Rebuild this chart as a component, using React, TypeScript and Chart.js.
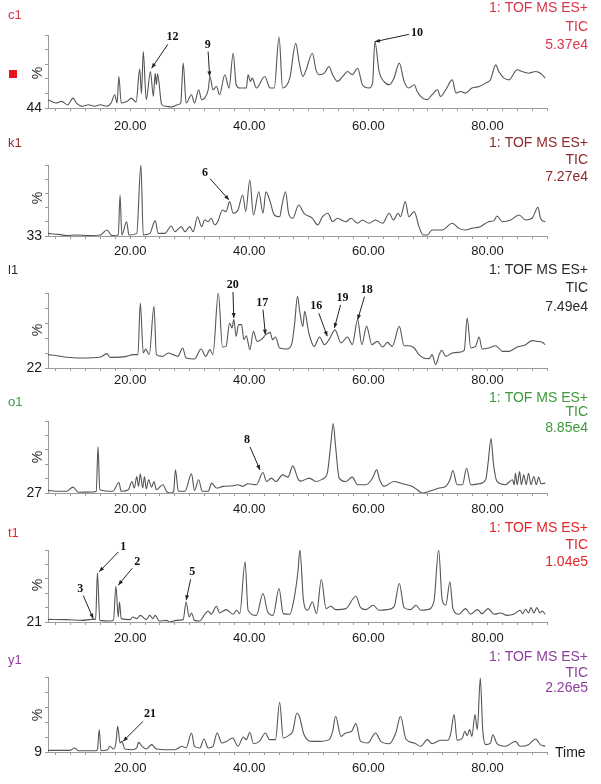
import React, { useEffect, useRef } from 'react';
import { Chart, registerables } from 'chart.js';

Chart.register(...registerables);

// ---------- data ----------
const sampleNames = ['c1', 'k1', 'l1', 'o1', 't1', 'y1'];
const ticIntensities = ['5.37e4', '7.27e4', '7.49e4', '8.85e4', '1.04e5', '2.26e5'];
const baselinePercents = [44, 33, 22, 27, 21, 9];
const xLabelTimes = [20, 40, 60, 80];
const timeMin = 6.2;
const timeMax = 90;

const c1Trace = [[6.2,50.4],[7.5,47.8],[8.5,49.1],[9.5,46.5],[10.4,51.6],[11,47.8],[12,45.3],[13,46.5],[14,45.3],[15,46.5],[16,45.3],[16.8,47.8],[17.4,54.2],[17.8,47.8],[18.1,68.2],[18.5,47.8],[19.5,49.1],[20.2,51.6],[21,48.5],[21.6,73.8],[21.9,55],[22.2,87.3],[22.7,50.4],[23.4,72],[23.9,52.9],[24.2,70.7],[24.4,62],[24.6,70.2],[25.3,46.5],[26,45.3],[27,44.8],[28,46.5],[28.5,48],[28.9,78.4],[29.4,47.8],[30.3,54.2],[30.8,47.8],[31.5,58],[32,50.4],[32.5,51.6],[33.1,58],[33.4,68.2],[33.9,58],[34.5,60.5],[35,54.2],[35.9,69.5],[36.6,59.3],[37.3,86],[37.8,61.8],[38.4,59.3],[39.5,59.3],[39.8,69.5],[40.2,64.4],[40.5,66.9],[41.2,59.3],[42.6,68.2],[43.5,59.3],[44.2,59.3],[45,98.7],[45.6,59.3],[46.8,66.9],[47.8,93.6],[48.4,78.4],[49,68.2],[49.5,72.7],[50.6,86],[51.2,73.3],[51.8,69.5],[52.6,70.7],[53.4,75.8],[54,69.5],[54.8,64.4],[55.7,68.2],[56.5,72],[57.3,69.5],[58.2,74.5],[59,61.8],[60.1,59.3],[60.7,63.1],[61.1,94.9],[61.8,72],[62.6,64.4],[63.5,61.8],[64.3,66.9],[65.2,78.4],[66,64.4],[66.8,59.3],[67.7,61.8],[68.2,56.7],[69.1,51.6],[69.9,50.4],[70.7,54.2],[71.6,58],[72.1,52.9],[73,58],[74.1,65.6],[74.7,55.5],[75.5,56.7],[76.3,55.5],[77.4,59.3],[78.6,60.5],[79.7,63.1],[80.5,65.6],[81.4,77.1],[81.9,72],[82.8,66.9],[83.6,65.6],[85,73.3],[85.8,72],[86.9,70.7],[88.1,72],[88.9,70.7],[89.7,66.9]];

const k1Trace = [[6.2,35.5],[8,34.5],[9.3,33.5],[11,34],[13,33.5],[15,34],[16.1,38.7],[16.9,33.5],[18,34],[18.3,71.7],[18.6,34],[19.4,46.5],[19.8,34],[21.1,35.5],[21.8,100],[22.2,34],[23.3,35.5],[24.2,47.5],[24.7,35.5],[25.8,35.5],[26.9,42.4],[27.5,37.1],[28.6,41.8],[29.2,37.1],[30,41.8],[30.6,37.1],[31.3,51.2],[32,41.8],[32.5,48.1],[33.1,46.5],[33.6,49.7],[34.2,43.4],[34.7,46.5],[35.5,57.5],[36.1,56],[36.7,65.4],[37.3,54.4],[38.1,57.5],[38.9,71.7],[39.4,56],[40.1,85.9],[40.7,52.8],[41.6,74.8],[42.3,54.4],[42.8,74.8],[43.5,65.4],[44.2,52.8],[45.1,51.2],[45.5,62.3],[46.1,74.8],[46.6,54.4],[47.3,49.7],[48.3,62.3],[49.2,54.4],[50.6,49.7],[51.5,43.4],[52.3,51.2],[53.2,54.4],[54,46.5],[54.8,49.7],[56.2,46.5],[57.1,49.7],[58.2,45],[59,48.1],[60.1,45],[61.2,48.1],[62.4,45],[63.5,54.4],[64.2,48.1],[65,54.4],[65.4,51.2],[66.2,65.4],[66.8,51.2],[67.7,56],[68.5,41.8],[69.2,33.9],[69.9,33.9],[70.7,38.7],[72.4,38.7],[74.1,45],[75.2,40.2],[76.3,38.7],[77.4,40.3],[78.8,41.8],[80.2,46.5],[81.1,47.5],[81.6,51.9],[82.5,46.5],[83.9,48.1],[85.3,52.8],[86.4,48.1],[87.5,49.7],[88.5,60.1],[88.9,49.7],[89.7,46.5]];

const l1Trace = [[6.2,35.9],[8,34.5],[9.3,33.1],[12,32.4],[14.9,33.1],[16.1,36.9],[16.6,33.1],[19.4,34.1],[20.5,35.9],[21.3,35.9],[21.7,89.6],[22.2,37.6],[22.6,41.8],[23.2,35.9],[24,86.1],[24.4,35.9],[25.5,34.1],[26.4,37.6],[27.2,35.9],[28,34.1],[28.8,42.8],[29.4,32.4],[30.8,31.4],[31.9,41.8],[32.7,34.1],[33.4,41.1],[33.9,35.9],[34.8,100],[35.5,43.8],[36.1,44.5],[36.7,68.8],[37.1,63.6],[37.4,72.3],[37.8,54.9],[38.2,67.1],[38.7,67.1],[39.1,51.5],[39.5,55.6],[40.1,41.1],[40.7,60.1],[41.3,49.7],[42,51.5],[42.8,56.7],[43.5,59.1],[43.9,51.5],[44.4,54.2],[45.1,42.8],[46.3,41.8],[47.1,46.3],[47.6,67.1],[48.1,96.5],[48.5,80],[49,65.3],[49.3,80.9],[50,58.4],[50.9,44.5],[51.8,54.2],[52.6,46.3],[53.4,51.5],[54.4,61.7],[55.4,48],[56.5,54.2],[57.3,46.3],[58.2,72.3],[58.9,46.3],[59.7,65.3],[60.6,46.3],[61.5,49.7],[62.4,43.8],[63.2,48.7],[64,44.5],[65.2,65.3],[66,45.2],[66.8,45.2],[67.7,42.8],[68.5,35.9],[69.3,32.4],[70.2,31.7],[70.7,35.9],[71.3,25.5],[71.9,35.9],[72.3,40.4],[73,34.1],[74.1,37.6],[75.2,38.3],[76.1,40.4],[76.6,74],[77.2,42.8],[78,44.5],[78.6,54.2],[79.1,41.8],[80.2,42.8],[81.4,45.2],[82.5,39.3],[83.6,39.3],[85,43.8],[86.4,46.3],[87.5,50.5],[88.3,49.7],[89.2,48.7],[89.7,46.3]];

const o1Trace = [[6.2,29.7],[8,28.7],[9.3,28.7],[10.4,33],[11.3,27.7],[13.8,28],[14.3,28.7],[14.6,73.9],[14.9,30.3],[17.1,28.7],[18.1,37.7],[18.5,28.7],[19.7,30.3],[20.3,38.7],[20.7,32],[21.1,43.7],[21.4,33.7],[21.7,46.4],[22.1,32],[22.4,43.7],[22.7,31],[23.1,40.4],[23.6,33],[24,38.7],[24.4,30.3],[25.5,35.4],[26.1,28.7],[26.9,27],[27.3,28.7],[27.6,50.4],[28.1,28.7],[29.2,28.7],[30.3,46.4],[30.8,29.7],[31.5,40.4],[32.1,28.7],[33.1,28.7],[33.7,37],[34.5,32],[35.6,33.7],[37.3,34.4],[38.1,35.4],[38.9,33.7],[39.8,36.4],[41.2,35.4],[42.3,47.8],[42.9,38.7],[43.7,42.1],[44.5,38.7],[45.6,45.4],[46.5,43.1],[47.3,54.5],[48.2,41.1],[48.6,39],[50.1,42.1],[51.2,38.7],[52.3,41.1],[53.1,47.1],[53.7,77.2],[54.1,97.3],[54.5,73.9],[55.1,42.1],[56.2,38.7],[57.3,43.1],[58.2,35.4],[59.6,35.4],[60.7,42.1],[61.4,50.4],[61.9,40.4],[62.6,33.7],[64.3,38.7],[65.7,36.4],[67.4,33.7],[68.2,30.3],[69.1,27],[70.2,28.7],[71.9,32],[73,33.7],[73.7,40.4],[74.2,49.8],[74.9,35.4],[75.8,35.4],[76.5,52.1],[77.2,35.4],[78.6,36.4],[79.7,40.4],[80.1,57.1],[80.6,82.3],[81,57.1],[81.6,38.7],[83,35.4],[84.2,40.4],[84.5,35.4],[84.7,47.1],[85,35.4],[85.4,48.8],[85.7,35.4],[86.1,45.4],[86.5,35.4],[86.9,47.1],[87.3,35.4],[87.8,43.7],[88.2,35.4],[88.6,43.1],[89,36.4],[89.7,37]];

const t1Trace = [[6.2,23.9],[9.3,23.6],[12,22.8],[13.5,23.9],[14.2,23.9],[14.5,75],[14.9,22.8],[16.6,22.1],[17.2,22.8],[17.6,60.3],[18,26.5],[18.2,43],[18.5,24.7],[20,23.6],[20.4,26.5],[21.1,24.7],[21.7,28.3],[22.7,23.6],[23.3,28.3],[23.8,24.5],[24.2,28.3],[24.9,22.1],[26.1,22.8],[26.6,21],[27.7,22.8],[28.9,23.6],[29.4,43],[29.9,26.5],[30.3,30.9],[30.8,22.8],[31.7,22.1],[32.4,28.3],[33.1,33.1],[33.6,29.5],[34.5,38.3],[35,30.9],[36.1,34.6],[37.3,29.5],[37.9,33.9],[38.4,30.2],[39.3,87.1],[39.8,33.9],[41.2,28.3],[42.3,52.2],[43.1,32],[44,28.3],[45,57.7],[45.7,30.2],[46.8,29.5],[47.6,49.3],[48.2,78],[48.5,100],[49.1,44.9],[49.8,33.9],[50.6,43],[51.3,30.2],[52.1,67.7],[52.9,35.7],[53.7,38.3],[54.5,34.6],[56.2,35.7],[57.9,49.3],[58.7,36.8],[59.6,34.6],[60.8,39.4],[61.8,33.9],[63.2,34.6],[64.3,37.5],[65.2,63.3],[66,36.8],[67.1,34.6],[68,39.4],[68.8,33.9],[69.9,34.6],[71,43],[71.8,100],[72.4,44.9],[73,39.4],[73.7,65.1],[74.2,35.7],[75.2,29.5],[76.3,35.7],[77.2,29.5],[78.3,34.6],[79.1,30.2],[80.1,35.7],[81.1,29.5],[82.2,30.9],[83.3,28.3],[84.4,29.5],[85.5,33.9],[85.9,30],[86.4,35],[86.9,31],[87.3,36.8],[87.8,31],[88.3,36.8],[88.8,31],[89.2,33],[89.7,29.5]];

const y1Trace = [[6.2,11],[9.9,11],[10.7,13.9],[11.3,10.6],[14.2,10.6],[14.5,11.8],[14.8,36.1],[15.1,10.6],[16.2,11.8],[16.6,15.9],[17.2,12.6],[17.6,19.9],[17.9,40.1],[18.3,19.9],[18.6,21.9],[19.1,12.6],[20.3,11.8],[21.1,13.9],[21.4,20.7],[22,15.9],[22.7,12.6],[23.6,17.9],[24.4,12.6],[26.1,11.8],[27.5,11.8],[28.7,15.9],[29.4,13.9],[30.3,32.1],[30.8,15.9],[31.7,13.9],[32.4,24.8],[33.1,13.9],[33.9,15.9],[34.6,32.1],[35.4,19.9],[36.2,21.9],[37.2,26],[38.1,15.9],[39,27.2],[39.5,24],[40.1,32.9],[40.7,19.1],[41.7,21.9],[42.7,32.1],[43.4,24],[44.4,24],[45.1,69.3],[45.7,26],[46.8,30],[47.3,34.1],[48,56.3],[48.4,52.3],[49.2,30],[50.4,21.9],[51.8,21.9],[53.4,24],[54,34.1],[54.5,52.3],[55.4,28],[56.2,32.1],[57.2,34.1],[57.9,43.4],[58.7,21.9],[59.9,19.9],[61.2,32.1],[62.1,21.9],[63.5,19.1],[64.6,32.1],[65.4,52.3],[66.3,24.8],[67.7,19.9],[68.8,15.9],[69.9,24],[70.7,19.1],[72.1,23.2],[73.3,23.2],[73.8,30],[74.4,54.3],[74.9,23.2],[75.8,26],[76.2,34.1],[76.6,28.8],[77,36.1],[77.4,28],[77.9,54.3],[78.3,36.1],[78.8,98.8],[79.2,36.1],[79.7,17.9],[80.5,19.9],[80.9,30],[81.6,19.1],[83,15.9],[84.7,21.9],[85.5,15.9],[86.9,17.9],[88.1,24.8],[88.9,17.9],[89.7,15.9]];

const traces = [c1Trace, k1Trace, l1Trace, o1Trace, t1Trace, y1Trace];

// peak annotations: panel index, label, retention time and intensity of arrow tip
const annPanels = [0, 0, 0, 1, 2, 2, 2, 2, 2, 3, 4, 4, 4, 4, 5];
const annLabels = ['12', '9', '10', '6', '20', '17', '16', '19', '18', '8', '1', '2', '3', '5', '21'];
const annTimes = [23.6, 33.35, 61.1, 36.6, 37.4, 42.7, 53.1, 54.3, 58.2, 41.8, 14.8, 18.0, 13.8, 29.4, 18.8];
const annValues = [74.5, 68.2, 94.9, 67, 74, 56.7, 55, 63.6, 72.3, 50.4, 76.1, 61.4, 24.7, 44.9, 21.9];

// ---------- layout (pixels) ----------
const annOffsets = [[21, -31], [-2, -32], [42, -9], [-24, -27], [-1, -33], [-3, -32], [-11, -30], [8, -30], [9, -30], [-13, -30], [24, -25], [19, -23], [-13, -30], [6, -28], [27, -27]];

const CANVAS_W = 601;
const CANVAS_H = 134;
const panelLayout = [
  { top: 0, areaTop: 35, areaBottom: 108, nameY: 15, headerY: [8, 27, 45], pctY: 73, tickPad: 8, color: '#d8364a' },
  { top: 130, areaTop: 35, areaBottom: 106, nameY: 13, headerY: [13, 30, 47], pctY: 68, tickPad: 5, color: '#8c2a2a' },
  { top: 260, areaTop: 33, areaBottom: 108, nameY: 10, headerY: [10, 28, 47], pctY: 70, tickPad: 2, color: '#2a2a2a' },
  { top: 390, areaTop: 31, areaBottom: 103, nameY: 12, headerY: [8, 22, 38], pctY: 67, tickPad: 6, color: '#3c9a3c' },
  { top: 520, areaTop: 30, areaBottom: 102, nameY: 13, headerY: [8, 25, 42], pctY: 65, tickPad: 6, color: '#e3262a' },
  { top: 650, areaTop: 27, areaBottom: 102, nameY: 10, headerY: [7, 23, 38], pctY: 65, tickPad: 6, color: '#8e3d9c' },
];

const SANS = '"Liberation Sans", Arial, sans-serif';
const SERIF = '"Liberation Serif", "Times New Roman", serif';
const AXIS_COLOR = '#9a9a9a';

function makeTextPlugin(i: number) {
  return {
    id: 'panelText' + i,
    afterDraw(chart: any) {
      const ctx = chart.ctx as CanvasRenderingContext2D;
      const L = panelLayout[i];
      ctx.save();
      // sample name
      ctx.textBaseline = 'middle';
      ctx.textAlign = 'left';
      ctx.fillStyle = L.color;
      ctx.font = '13px ' + SANS;
      ctx.fillText(sampleNames[i], 8, L.nameY);
      // header
      ctx.font = '14px ' + SANS;
      ctx.textAlign = 'right';
      const header = ['1: TOF MS ES+', 'TIC', ticIntensities[i]];
      header.forEach((s, k) => ctx.fillText(s, 588, L.headerY[k]));
      // % label
      ctx.save();
      ctx.translate(38, L.pctY);
      ctx.rotate(-Math.PI / 2);
      ctx.textAlign = 'center';
      ctx.fillStyle = '#333';
      ctx.font = '14px ' + SANS;
      ctx.fillText('%', 0, 0);
      ctx.restore();
      if (i === 0) {
        ctx.fillStyle = '#e8141c';
        ctx.fillRect(9, 70, 8, 8);
      }
      if (i === panelLayout.length - 1) {
        ctx.fillStyle = '#1a1a1a';
        ctx.textAlign = 'left';
        ctx.font = '14px ' + SANS;
        ctx.fillText('Time', 555, L.areaBottom + 1);
      }
      // annotations
      const xs = chart.scales.x;
      const ys = chart.scales.y;
      ctx.font = 'bold 12px ' + SERIF;
      annPanels.forEach((p, k) => {
        if (p !== i) return;
        const tx = xs.getPixelForValue(annTimes[k]);
        const ty = ys.getPixelForValue(annValues[k]);
        const lx = tx + annOffsets[k][0];
        const ly = ty + annOffsets[k][1];
        ctx.fillStyle = '#111';
        ctx.textAlign = 'center';
        ctx.textBaseline = 'middle';
        ctx.fillText(annLabels[k], lx, ly);
        const hw = ctx.measureText(annLabels[k]).width / 2 + 2;
        const hh = 7;
        const dx = tx - lx;
        const dy = ty - ly;
        const len = Math.hypot(dx, dy);
        const ux = dx / len;
        const uy = dy / len;
        const r = Math.min(Math.abs(ux) > 1e-6 ? hw / Math.abs(ux) : 1e9, Math.abs(uy) > 1e-6 ? hh / Math.abs(uy) : 1e9);
        const sx = lx + ux * r;
        const sy = ly + uy * r;
        ctx.strokeStyle = '#222';
        ctx.lineWidth = 1;
        ctx.beginPath();
        ctx.moveTo(sx, sy);
        ctx.lineTo(tx, ty);
        ctx.stroke();
        // arrow head
        const ah = 5;
        const aw = 2;
        ctx.beginPath();
        ctx.moveTo(tx, ty);
        ctx.lineTo(tx - ux * ah - uy * aw, ty - uy * ah + ux * aw);
        ctx.lineTo(tx - ux * ah + uy * aw, ty - uy * ah - ux * aw);
        ctx.closePath();
        ctx.fillStyle = '#222';
        ctx.fill();
      });
      ctx.restore();
    },
  };
}

function Panel({ index }: { index: number }) {
  const ref = useRef<HTMLCanvasElement | null>(null);
  useEffect(() => {
    const L = panelLayout[index];
    const yMin = baselinePercents[index];
    const points = traces[index].map((p) => ({ x: p[0], y: p[1] }));
    const chart = new Chart(ref.current as HTMLCanvasElement, {
      type: 'line',
      data: {
        datasets: [
          {
            data: points,
            borderColor: '#555555',
            borderWidth: 1.1,
            pointRadius: 0,
            cubicInterpolationMode: 'monotone',
            fill: false,
          },
        ],
      },
      options: {
        responsive: false,
        animation: false,
        events: [],
        layout: { padding: { left: 0, right: 54, top: L.areaTop, bottom: 0 } },
        plugins: { legend: { display: false }, tooltip: { enabled: false }, title: { display: false } },
        scales: {
          x: {
            type: 'linear',
            min: timeMin,
            max: timeMax,
            afterBuildTicks: (s: any) => {
              const t = [];
              for (let k = 0; k <= 33; k++) t.push({ value: 7.5 + k * 2.5 });
              s.ticks = t;
            },
            afterFit: (s: any) => {
              s.height = CANVAS_H - L.areaBottom;
            },
            grid: { drawOnChartArea: false, drawTicks: true, tickLength: 3, color: AXIS_COLOR },
            border: { display: true, color: AXIS_COLOR, width: 1 },
            ticks: {
              autoSkip: false,
              maxRotation: 0,
              minRotation: 0,
              padding: L.tickPad,
              color: '#1a1a1a',
              font: { family: SANS, size: 13 },
              callback: (v: any) => (xLabelTimes.includes(Number(v)) ? Number(v).toFixed(2) : ''),
            },
          },
          y: {
            type: 'linear',
            min: yMin,
            max: 100,
            afterBuildTicks: (s: any) => {
              const t = [];
              for (let k = 0; k <= 5; k++) t.push({ value: yMin + ((100 - yMin) * k) / 5 });
              s.ticks = t;
            },
            afterFit: (s: any) => {
              s.width = 48;
            },
            grid: { drawOnChartArea: false, drawTicks: true, tickLength: 3, color: AXIS_COLOR },
            border: { display: true, color: AXIS_COLOR, width: 1 },
            ticks: {
              autoSkip: false,
              padding: 3,
              color: '#1a1a1a',
              font: { family: SANS, size: 14 },
              callback: (v: any, idx: number) => (idx === 0 ? String(yMin) : ''),
            },
          },
        },
      },
      plugins: [makeTextPlugin(index)],
    } as any);
    return () => chart.destroy();
  }, [index]);
  return (
    <canvas
      ref={ref}
      width={CANVAS_W}
      height={CANVAS_H}
      style={{ position: 'absolute', left: 0, top: panelLayout[index].top, width: CANVAS_W, height: CANVAS_H, display: 'block' }}
    />
  );
}

export default function App() {
  return (
    <div style={{ position: 'absolute', left: 0, top: 0, width: 601, height: 784, background: '#ffffff', overflow: 'hidden' }}>
      {panelLayout.map((_, i) => (
        <Panel key={i} index={i} />
      ))}
    </div>
  );
}
